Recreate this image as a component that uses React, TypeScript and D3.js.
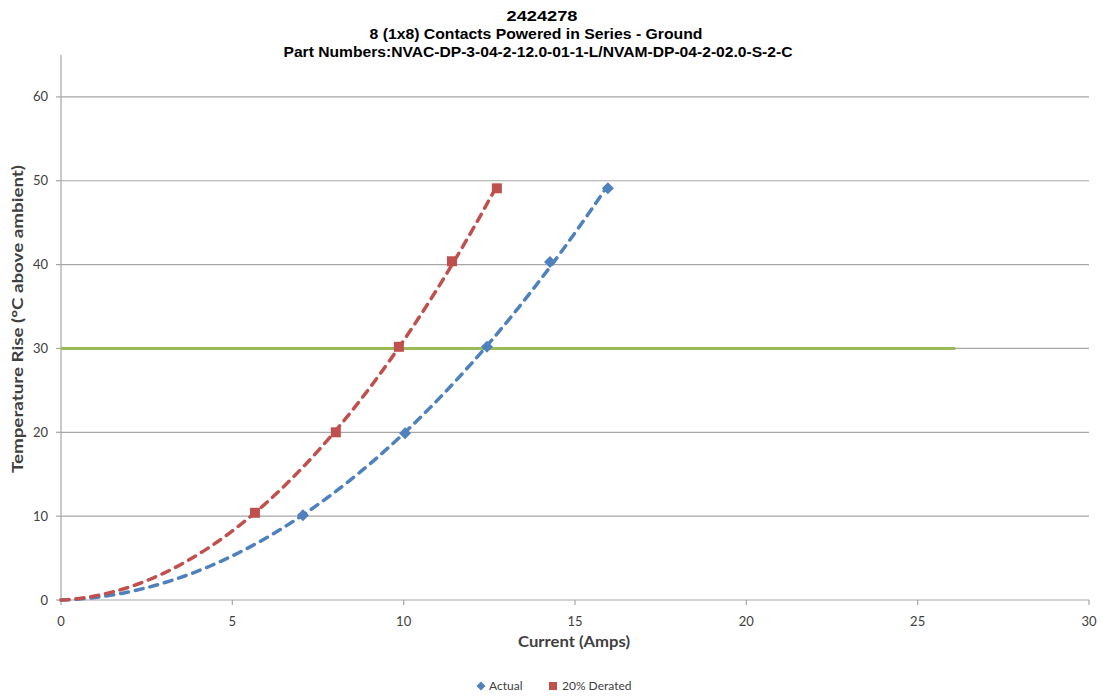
import React from "react";
import * as d3 from "d3";

// Measured points: current (A) vs. temperature rise (°C above ambient)
const actualCurrent = [7.06, 10.04, 12.43, 14.27, 15.96];
const actualRise = [10.1, 19.9, 30.2, 40.3, 49.1];
const deratedCurrent = [5.66, 8.02, 9.86, 11.41, 12.72];
const deratedRise = [10.4, 20.0, 30.2, 40.4, 49.1];

// 30 °C limit line
const limitRise = 30;
const limitCurrentEnd = 26.1;

const xTicks = [0, 5, 10, 15, 20, 25, 30];
const yTicks = [0, 10, 20, 30, 40, 50, 60];

const titleLines = [
  "2424278",
  "8 (1x8) Contacts Powered in  Series - Ground",
  "Part Numbers:NVAC-DP-3-04-2-12.0-01-1-L/NVAM-DP-04-2-02.0-S-2-C",
];
// centre and fitted width of each title line
const titleCenters = [542, 536, 538];
const titleWidths = [71, 333, 509];

const W = 1101;
const H = 696;
const plot = { left: 61, right: 1089, top: 55, bottom: 600 };

const BLUE = "#4F81BD";
const RED = "#C0504D";
const GREEN = "#9BBB59";
const GRID = "#A6A6A6";
const TEXT = "#404040";
const FONT = "Lato, 'Open Sans', sans-serif";

// Least-squares quadratic through the origin: y = a x^2 + b x
function fitQuadOrigin(xs: number[], ys: number[]) {
  let s4 = 0, s3 = 0, s2 = 0, sx2y = 0, sxy = 0;
  xs.forEach((x, i) => {
    const y = ys[i];
    s4 += x ** 4;
    s3 += x ** 3;
    s2 += x ** 2;
    sx2y += x * x * y;
    sxy += x * y;
  });
  const det = s4 * s2 - s3 * s3;
  const a = (sx2y * s2 - s3 * sxy) / det;
  const b = (s4 * sxy - s3 * sx2y) / det;
  return (x: number) => a * x * x + b * x;
}

export default function App() {
  const x = d3.scaleLinear().domain([0, 30]).range([plot.left, plot.right]);
  const y = d3.scaleLinear().domain([0, 65]).range([plot.bottom, plot.top]);

  const trend = (xs: number[], ys: number[]) => {
    const f = fitQuadOrigin(xs, ys);
    const xmax = d3.max(xs) as number;
    const pts = d3.range(0, xmax + 1e-9, xmax / 80).map((v) => [v, f(v)] as [number, number]);
    return d3
      .line<[number, number]>()
      .x((d) => x(d[0]))
      .y((d) => y(d[1]))(pts) as string;
  };

  const diamond = (cx: number, cy: number, r: number) =>
    `M${cx},${cy - r}L${cx + r},${cy}L${cx},${cy + r}L${cx - r},${cy}Z`;

  return (
    <svg width={W} height={H} style={{ position: "absolute", left: 0, top: 0, background: "#fff" }}>
      {/* titles */}
      {titleLines.map((t, i) => (
        <text
          key={i}
          x={titleCenters[i]}
          y={21 + i * 18}
          textAnchor="middle"
          fontFamily="'Liberation Sans', Arial, sans-serif"
          fontWeight="bold"
          fontSize={14}
          textLength={titleWidths[i]}
          lengthAdjust="spacingAndGlyphs"
          fill="#000"
        >
          {t}
        </text>
      ))}

      {/* horizontal gridlines */}
      {yTicks.filter((t) => t > 0).map((t) => (
        <line key={t} x1={plot.left} x2={plot.right} y1={y(t)} y2={y(t)} stroke={GRID} strokeWidth={1.2} />
      ))}

      {/* axes */}
      <line x1={plot.left} x2={plot.left} y1={plot.top} y2={plot.bottom} stroke={GRID} strokeWidth={1.2} />
      <line x1={plot.left} x2={plot.right} y1={plot.bottom} y2={plot.bottom} stroke={GRID} strokeWidth={1.2} />
      {yTicks.map((t) => (
        <line key={"yt" + t} x1={plot.left - 5} x2={plot.left} y1={y(t)} y2={y(t)} stroke={GRID} strokeWidth={1.2} />
      ))}
      {xTicks.map((t) => (
        <line key={"xt" + t} x1={x(t)} x2={x(t)} y1={plot.bottom} y2={plot.bottom + 5} stroke={GRID} strokeWidth={1.2} />
      ))}

      {/* tick labels */}
      {yTicks.map((t) => (
        <text key={"yl" + t} x={plot.left - 13} y={y(t)} dy="0.35em" textAnchor="end"
          fontFamily={FONT} fontSize={13} fill={TEXT}>
          {t}
        </text>
      ))}
      {xTicks.map((t) => (
        <text key={"xl" + t} x={x(t)} y={plot.bottom + 26} textAnchor="middle"
          fontFamily={FONT} fontSize={13} fill={TEXT}>
          {t}
        </text>
      ))}

      {/* axis titles */}
      <text x={574} y={647} textAnchor="middle" fontFamily={FONT} fontWeight="bold" fontSize={15}
        textLength={112} lengthAdjust="spacingAndGlyphs" fill={TEXT}>
        Current (Amps)
      </text>
      <text transform="translate(23, 319) rotate(-90)" textAnchor="middle" fontFamily={FONT}
        fontWeight="bold" fontSize={15} textLength={308} lengthAdjust="spacingAndGlyphs" fill={TEXT}>
        Temperature Rise (°C above ambient)
      </text>

      {/* 30 °C limit */}
      <line x1={x(0)} x2={x(limitCurrentEnd)} y1={y(limitRise)} y2={y(limitRise)} stroke={GREEN} strokeWidth={3} />

      {/* trend curves */}
      <path d={trend(actualCurrent, actualRise)} fill="none" stroke={BLUE} strokeWidth={3.5}
        strokeDasharray="8 7" strokeLinecap="round" />
      <path d={trend(deratedCurrent, deratedRise)} fill="none" stroke={RED} strokeWidth={3.5}
        strokeDasharray="8 7" strokeLinecap="round" />

      {/* markers */}
      {actualCurrent.map((c, i) => (
        <path key={"a" + i} d={diamond(x(c), y(actualRise[i]), 6)} fill={BLUE} />
      ))}
      {deratedCurrent.map((c, i) => (
        <rect key={"d" + i} x={x(c) - 5} y={y(deratedRise[i]) - 5} width={10} height={10} fill={RED} />
      ))}

      {/* legend */}
      <path d={diamond(481, 686, 4.5)} fill={BLUE} />
      <text x={489} y={686} dy="0.35em" fontFamily={FONT} fontSize={12} fill={TEXT}>
        Actual
      </text>
      <rect x={549} y={682} width={8} height={8} fill={RED} />
      <text x={562} y={686} dy="0.35em" fontFamily={FONT} fontSize={12} fill={TEXT}>
        20% Derated
      </text>
    </svg>
  );
}
